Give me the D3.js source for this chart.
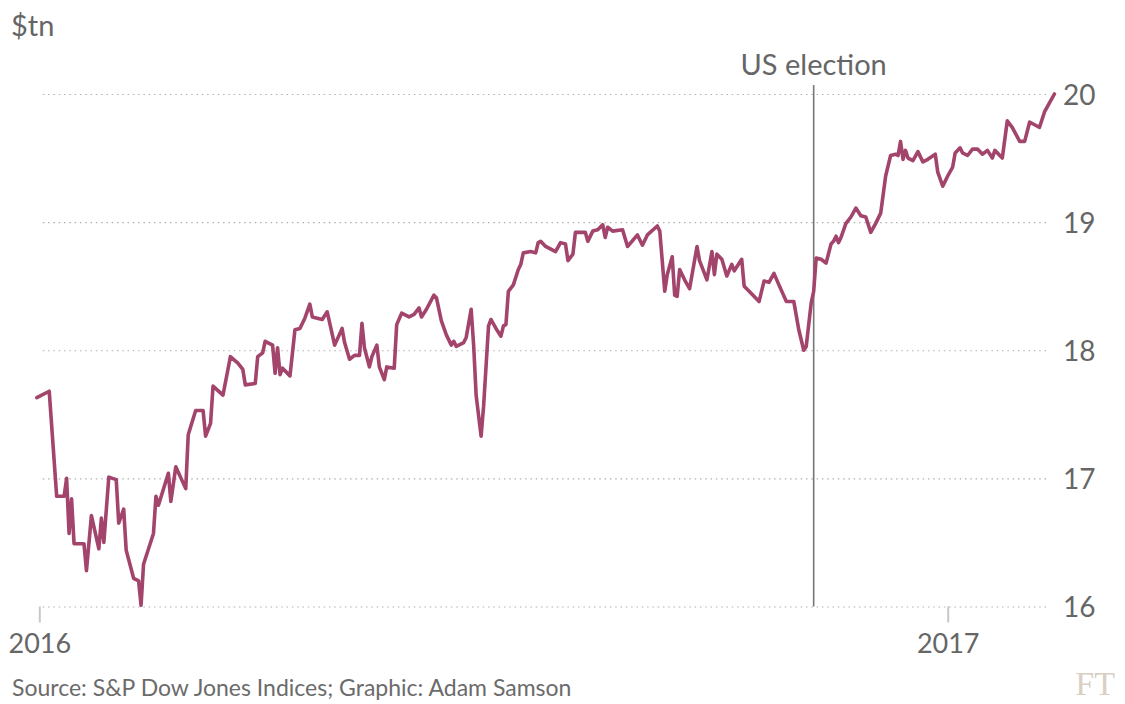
<!DOCTYPE html>
<html>
<head>
<meta charset="utf-8">
<script src="https://cdn.jsdelivr.net/npm/d3@7/dist/d3.min.js"></script>
<style>
  html, body { margin: 0; padding: 0; background: #fff; }
  svg { display: block; }
  text { font-family: Lato, "Open Sans", sans-serif; }
</style>
</head>
<body>
<svg id="chart" width="1125" height="704"></svg>
<script>
// ---- data ----
const dates = [
  "2015-12-31","2016-01-05","2016-01-08","2016-01-11","2016-01-12","2016-01-13","2016-01-14","2016-01-15",
  "2016-01-19","2016-01-20","2016-01-22","2016-01-25","2016-01-26","2016-01-27","2016-01-29",
  "2016-02-01","2016-02-02","2016-02-04","2016-02-05","2016-02-08","2016-02-10","2016-02-11","2016-02-12",
  "2016-02-16","2016-02-17","2016-02-18","2016-02-22","2016-02-23","2016-02-25","2016-02-29",
  "2016-03-01","2016-03-04","2016-03-07","2016-03-08","2016-03-10","2016-03-11","2016-03-15","2016-03-17",
  "2016-03-18","2016-03-21","2016-03-23","2016-03-24","2016-03-28","2016-03-29","2016-03-31",
  "2016-04-01","2016-04-04","2016-04-05","2016-04-06","2016-04-07","2016-04-08","2016-04-11","2016-04-13",
  "2016-04-15","2016-04-17","2016-04-19","2016-04-20","2016-04-24","2016-04-26","2016-04-29",
  "2016-05-02","2016-05-03","2016-05-05","2016-05-07","2016-05-09","2016-05-10","2016-05-11","2016-05-13",
  "2016-05-14","2016-05-16","2016-05-17","2016-05-19","2016-05-20","2016-05-23","2016-05-24","2016-05-26",
  "2016-05-29","2016-05-31",
  "2016-06-02","2016-06-03","2016-06-05","2016-06-08","2016-06-09","2016-06-11","2016-06-13","2016-06-15",
  "2016-06-16","2016-06-17","2016-06-20","2016-06-21","2016-06-23","2016-06-24","2016-06-25","2016-06-27",
  "2016-06-28","2016-06-30",
  "2016-07-01","2016-07-03","2016-07-05","2016-07-06","2016-07-07","2016-07-08","2016-07-10","2016-07-12",
  "2016-07-13","2016-07-14","2016-07-17","2016-07-19","2016-07-20","2016-07-21","2016-07-23","2016-07-27",
  "2016-07-29","2016-07-31",
  "2016-08-01","2016-08-03","2016-08-04","2016-08-08","2016-08-09","2016-08-11","2016-08-13","2016-08-15",
  "2016-08-16","2016-08-17","2016-08-19","2016-08-23","2016-08-25","2016-08-29","2016-08-31",
  "2016-09-02","2016-09-06","2016-09-07","2016-09-09","2016-09-10","2016-09-12","2016-09-13","2016-09-14",
  "2016-09-15","2016-09-17","2016-09-19","2016-09-22","2016-09-23","2016-09-26","2016-09-28","2016-09-29",
  "2016-09-30",
  "2016-10-02","2016-10-04","2016-10-06","2016-10-07","2016-10-10","2016-10-11","2016-10-13","2016-10-17",
  "2016-10-19","2016-10-21","2016-10-23","2016-10-25","2016-10-28","2016-10-31",
  "2016-11-02","2016-11-04","2016-11-05","2016-11-07","2016-11-08","2016-11-09","2016-11-11","2016-11-13",
  "2016-11-15","2016-11-16","2016-11-17","2016-11-18","2016-11-19","2016-11-21","2016-11-23","2016-11-25",
  "2016-11-27","2016-11-29",
  "2016-12-01","2016-12-03","2016-12-05","2016-12-07","2016-12-09","2016-12-11","2016-12-12","2016-12-13",
  "2016-12-14","2016-12-15","2016-12-16","2016-12-18","2016-12-20","2016-12-22","2016-12-24","2016-12-27",
  "2016-12-28","2016-12-30",
  "2017-01-01","2017-01-03","2017-01-04","2017-01-06","2017-01-07","2017-01-09","2017-01-11","2017-01-13",
  "2017-01-15","2017-01-17","2017-01-19","2017-01-20","2017-01-23","2017-01-25","2017-01-27","2017-01-30",
  "2017-02-01","2017-02-03","2017-02-05","2017-02-07","2017-02-09","2017-02-11","2017-02-13"
];
const values = [
  17.63,17.68,16.86,16.86,17.00,16.57,16.84,16.49,
  16.49,16.28,16.71,16.45,16.69,16.50,17.01,
  16.99,16.65,16.76,16.44,16.22,16.20,16.01,16.33,
  16.57,16.86,16.79,17.04,16.82,17.09,16.92,
  17.34,17.53,17.53,17.33,17.43,17.72,17.65,17.85,
  17.95,17.90,17.85,17.73,17.74,17.95,17.98,
  18.07,18.04,17.82,18.02,17.81,17.86,17.80,18.16,
  18.17,18.25,18.36,18.26,18.24,18.30,18.04,
  18.17,18.06,17.93,17.96,17.96,18.21,18.02,17.87,
  17.95,18.04,17.87,17.77,17.87,17.86,18.20,18.29,
  18.26,18.28,
  18.33,18.26,18.32,18.43,18.41,18.23,18.12,18.04,
  18.07,18.03,18.06,18.10,18.32,18.04,17.65,17.33,
  17.56,18.19,
  18.24,18.17,18.11,18.19,18.20,18.46,18.51,18.63,
  18.67,18.76,18.77,18.76,18.84,18.85,18.81,18.77,
  18.84,18.83,
  18.70,18.75,18.92,18.92,18.85,18.93,18.94,18.98,
  18.88,18.96,18.93,18.94,18.81,18.90,18.82,
  18.90,18.97,18.93,18.46,18.59,18.73,18.43,18.42,
  18.63,18.55,18.48,18.81,18.70,18.55,18.77,18.59,
  18.75,
  18.71,18.58,18.67,18.62,18.71,18.50,18.46,18.38,
  18.54,18.53,18.60,18.51,18.38,18.38,
  18.16,18.00,18.03,18.37,18.46,18.72,18.71,18.68,
  18.83,18.85,18.89,18.84,18.88,18.99,19.04,19.11,
  19.05,19.04,
  18.92,18.99,19.07,19.36,19.52,19.53,19.52,19.63,
  19.49,19.56,19.50,19.48,19.55,19.47,19.49,19.53,
  19.39,19.28,
  19.36,19.43,19.54,19.58,19.54,19.52,19.57,19.57,
  19.53,19.56,19.50,19.56,19.50,19.79,19.74,19.63,
  19.63,19.78,19.76,19.74,19.86,19.93,20.00
];
const yTicks = [16, 17, 18, 19, 20];
const xTicks = ["2016-01-01", "2017-01-01"];
const eventDate = "2016-11-08";
const eventLabel = "US election";
const unitLabel = "$tn";
const sourceLabel = "Source: S&P Dow Jones Indices; Graphic: Adam Samson";

// ---- drawing ----
const parse = d3.timeParse("%Y-%m-%d");
const data = dates.map((d, i) => ({ date: parse(d), value: values[i] }));

const svg = d3.select("#chart");
const plotLeft = 39.3, plotRight = 1046, plotTop = 94, plotBottom = 606.5;

const x = d3.scaleTime()
  .domain([parse(xTicks[0]), parse(xTicks[1])])
  .range([plotLeft, 947.7]);
const y = d3.scaleLinear().domain([16, 20]).range([plotBottom, plotTop]);

// y axis with dotted gridlines, labels on the right
const yAxis = svg.append("g")
  .attr("transform", `translate(${plotRight},0)`)
  .call(d3.axisRight(y).tickValues(yTicks).tickSize(-(plotRight - plotLeft)).tickPadding(17).tickFormat(d3.format("d")));
yAxis.select(".domain").remove();
yAxis.selectAll(".tick line")
  .attr("stroke", "#b0b0b0").attr("stroke-width", 1.2).attr("stroke-dasharray", "1.5,3.8");
yAxis.selectAll(".tick text")
  .attr("fill", "#666").style("font-size", "28px").attr("dy", "0.36em");

// x axis
const xAxis = svg.append("g")
  .attr("transform", `translate(0,${plotBottom})`)
  .call(d3.axisBottom(x).tickValues(xTicks.map(parse)).tickSize(16).tickPadding(11).tickFormat(d3.timeFormat("%Y")));
xAxis.select(".domain").remove();
xAxis.selectAll(".tick line").attr("stroke", "#c8c8c8").attr("stroke-width", 2);
xAxis.selectAll(".tick text").attr("fill", "#666").style("font-size", "27px");

// election marker
const ex = x(parse(eventDate));
svg.append("line")
  .attr("x1", ex).attr("x2", ex).attr("y1", 85).attr("y2", plotBottom)
  .attr("stroke", "#777").attr("stroke-width", 1.6);
svg.append("text")
  .attr("x", ex).attr("y", 75).attr("text-anchor", "middle")
  .attr("fill", "#666").style("font-size", "29px").text(eventLabel);

// line
const line = d3.line().x(d => x(d.date)).y(d => y(d.value));
svg.append("path")
  .datum(data)
  .attr("d", line)
  .attr("fill", "none")
  .attr("stroke", "#a2446b")
  .attr("stroke-width", 3.6)
  .attr("stroke-linejoin", "round")
  .attr("stroke-linecap", "round");

// labels
svg.append("text").attr("x", 11).attr("y", 36)
  .attr("fill", "#666").style("font-size", "29px").text(unitLabel);
svg.append("text").attr("x", 12).attr("y", 696)
  .attr("fill", "#6b6b6b").style("font-size", "23px").text(sourceLabel);
svg.append("text").attr("x", 1115).attr("y", 695).attr("text-anchor", "end")
  .attr("fill", "#d9cfc3").style("font-family", "'Liberation Serif', 'DejaVu Serif', serif")
  .style("font-size", "34px").text("FT");
</script>
</body>
</html>
